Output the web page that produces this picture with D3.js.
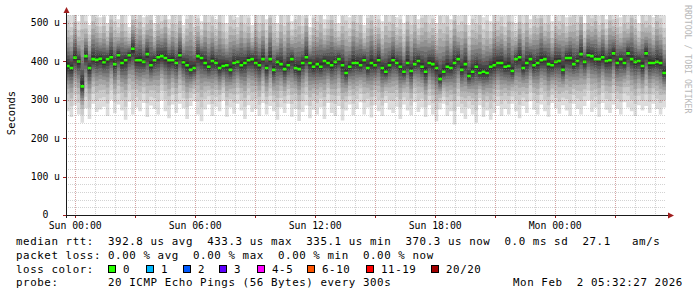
<!DOCTYPE html>
<html><head><meta charset="utf-8">
<script src="https://cdn.jsdelivr.net/npm/d3@7/dist/d3.min.js"></script>
<style>
body{margin:0;background:#fff}
svg{display:block}
text{font-family:"DejaVu Sans Mono",monospace;white-space:pre}
</style>
</head><body>
<svg id="c" width="697" height="297"></svg>
<script>
// ---------------- data ----------------
const medians = [
388,383,410,400,335,414,383,406,404,407,398,406,411,393,416,396,403,416,433,403,403,399,419,390,403,411,
414,409,403,403,396,416,398,390,378,383,414,409,396,386,401,396,383,388,390,378,396,399,390,396,403,406,
396,390,406,383,406,378,399,393,380,390,406,383,380,396,411,396,386,393,386,401,396,390,399,406,390,370,386,396,
396,390,403,383,396,390,403,383,373,390,403,396,386,373,396,375,393,401,386,373,396,393,383,354,373,386,383,
396,406,378,393,362,373,386,370,373,370,386,390,396,396,386,388,375,406,411,383,396,406,390,396,403,406,393,390,399,
401,378,409,409,393,401,419,399,416,414,406,406,411,401,403,421,396,406,396,421,406,399,401,388,421,396,396,399,396,370];
const minPing = [
270,255,285,262,240,278,250,290,268,275, 282,258,300,265,288,272,248,295,262,280,
270,292,255,285,276,262,298,270,252,288, 266,290,278,250,284,296,262,244,275,288,
258,282,270,298,256,280,264,290,272,250, 286,268,276,258,292,262,284,270,248,280,
266,290,256,276,245,268,285,252,274,262, 280,250,292,266,258,284,246,272,288,260,
276,294,262,280,254,286,270,258,292,274, 266,282,250,288,272,260,294,268,280,255,
286,262,244,275,290,258,270,236,282,265, 250,278,262,240,286,255,272,248,266,284,
258,276,262,290,270,252,284,266,296,274, 262,288,270,256,292,278,264,286,272,258,
290,276,262,284,298,268,280,256,292,274, 266,288,276,262,294,280,270,258,286,272,
284,266,290,276,262,280];
const maxPing = [
540,520,560,505,575,530,495,565,545,515, 550,500,570,535,510,560,525,490,555,540,
565,515,545,580,500,550,530,570,510,555, 525,560,495,545,575,520,540,505,565,535,
550,510,575,530,500,560,540,515,570,525, 545,495,565,530,555,510,580,535,500,560,
525,570,505,545,560,520,575,490,550,535, 565,510,540,580,525,500,555,545,515,570,
530,560,495,550,575,520,540,505,565,535, 555,515,545,500,570,530,560,510,550,580,
525,545,500,565,535,555,510,575,520,540, 560,495,550,530,570,515,545,505,565,535,
550,520,575,540,500,560,530,565,510,555, 545,580,525,560,505,550,535,570,515,545,
560,530,575,500,550,540,565,520,555,510, 570,535,545,515,560,525,580,540,500,565,
530,555,515,570,545,520];

const yTicks = [0,100,200,300,400,500];
const yTickLabels = ["0","100","200","300","400","500"];
const xTickLabels = ["Sun 00:00","Sun 06:00","Sun 12:00","Sun 18:00","Mon 00:00"];
const xTickTimes = [Date.UTC(2026,1,1,0),Date.UTC(2026,1,1,6),Date.UTC(2026,1,1,12),Date.UTC(2026,1,1,18),Date.UTC(2026,1,2,0)];
const startTime = Date.UTC(2026,0,31,23,32,27);
const endTime = Date.UTC(2026,1,2,5,32,27);
const lossLabels = ["0","1","2","3","4-5","6-10","11-19","20/20"];
const lossColors = ["#26ff00","#00b8ff","#0059ff","#5e00ff","#ff00ff","#ff5500","#ff0000","#a10000"];
const smokeProfile = [1,0.78,0.62,0.5,0.4,0.32,0.25,0.18,0.12,0.06];
const smokeGray = [221,202,183,164,145,126,107,88,69,50];
const legendLines = [
 "median rtt:  392.8 us avg  433.3 us max  335.1 us min  370.3 us now  0.0 ms sd  27.1   am/s",
 "packet loss: 0.00 % avg  0.00 % max  0.00 % min  0.00 % now",
 "loss color:",
 "probe:       20 ICMP Echo Pings (56 Bytes) every 300s"];
const stampText = "Mon Feb  2 05:32:27 2026";

// ---------------- layout ----------------
const L = 66, T = 15, W = 600, H = 200;
const svg = d3.select("#c");
const x = d3.scaleUtc().domain([startTime, endTime]).range([L, L+W]);
const y = d3.scaleLinear().domain([0, 521]).range([T+H, T]);
const N = medians.length;
const dt = (endTime - startTime) / N;
const idx = d3.range(N+1);
const val = (arr,i)=>arr[Math.min(i,N-1)];

svg.append("defs").append("clipPath").attr("id","pc")
  .append("rect").attr("x",L).attr("y",T).attr("width",W).attr("height",H);

const plot = svg.append("g").attr("clip-path","url(#pc)");
// smoke
smokeProfile.forEach((p,k)=>{
  const area = d3.area().curve(d3.curveStepAfter)
    .x(i=>x(startTime + i*dt))
    .y0(i=>{const m=val(medians,i);return y(m-(m-val(minPing,i))*p);})
    .y1(i=>{const m=val(medians,i);return y(m+(val(maxPing,i)-m)*p);});
  const g = smokeGray[k];
  plot.append("path").datum(idx).attr("d",area).attr("fill",`rgb(${g},${g},${g})`);
});

// grid
const grid = svg.append("g");
d3.utcHour.range(startTime, endTime).forEach(t=>{
  const d = new Date(t);
  const major = d.getUTCHours()%3===0;
  const xx = Math.round(x(t))+0.5;
  if (xx <= L+1) return;
  grid.append("line").attr("x1",xx).attr("x2",xx).attr("y1",T).attr("y2",T+H)
    .attr("stroke", major?"rgba(150,30,30,0.4)":"rgba(140,140,140,0.38)")
    .attr("stroke-dasharray","1,1");
});
d3.range(20,521,20).forEach(v=>{
  const major = v%100===0;
  const yy = Math.round(y(v))+0.5;
  grid.append("line").attr("x1",L).attr("x2",L+W).attr("y1",yy).attr("y2",yy)
    .attr("stroke", major?"rgba(150,30,30,0.4)":"rgba(140,140,140,0.38)")
    .attr("stroke-dasharray","1,1");
});

// median
const medArea = d3.area().curve(d3.curveStepAfter)
  .x(i=>x(startTime + i*dt))
  .y0(i=>y(val(medians,i))+1.3)
  .y1(i=>y(val(medians,i))-1.3);
plot.append("path").datum(idx).attr("d",medArea).attr("fill",lossColors[0]);

// axes
const axisCol = "#1a1a1a", arrowCol = "#a01e1e";
svg.append("line").attr("x1",63).attr("x2",669).attr("y1",y(0)+0.5).attr("y2",y(0)+0.5).attr("stroke",axisCol);
svg.append("line").attr("x1",L+0.5).attr("x2",L+0.5).attr("y1",y(0)+3).attr("y2",12).attr("stroke",axisCol);
svg.append("path").attr("d",`M668,${y(0)-2.5}L674,${y(0)+0.5}L668,${y(0)+3.5}Z`).attr("fill",arrowCol);
svg.append("path").attr("d",`M63.5,13L66.5,7L69.5,13Z`).attr("fill",arrowCol);
// tick marks
d3.utcHour.every(3).range(startTime,endTime).forEach(t=>{
  const xx = Math.round(x(t))+0.5;
  svg.append("line").attr("x1",xx).attr("x2",xx).attr("y1",y(0)+1).attr("y2",y(0)+3).attr("stroke",arrowCol);
});
yTicks.forEach(v=>{
  const yy = Math.round(y(v))+0.5;
  svg.append("line").attr("x1",63).attr("x2",66).attr("y1",yy).attr("y2",yy).attr("stroke",arrowCol);
});

// y labels
yTicks.forEach((v,i)=>{
  const g = svg.append("g").attr("font-size","9.8px");
  g.append("text").attr("x",48.5).attr("y",y(v)).attr("dy","0.35em").attr("text-anchor","end").text(yTickLabels[i]);
  if (v!==0) g.append("text").attr("x",60).attr("y",y(v)).attr("dy","0.35em").attr("text-anchor","end").text("u");
});
// x labels
xTickTimes.forEach((t,i)=>{
  svg.append("text").attr("x",x(t)).attr("y",228.5).attr("text-anchor","middle")
    .attr("font-size","9.8px").text(xTickLabels[i]);
});
// y title
svg.append("text").attr("transform","translate(14.5,113) rotate(-90)").attr("text-anchor","middle")
  .attr("font-size","10.5px").text("Seconds");
// watermark
svg.append("text").attr("transform","translate(684.5,5) rotate(90)").attr("font-size","8.2px")
  .attr("fill","#b8b8b8").text("RRDTOOL / TOBI OETIKER");

// legend
const ls = "0.58px", lf = "10.8px";
const base = [245,258.5,272.5,286];
legendLines.forEach((s,i)=>{
  svg.append("text").attr("x",16).attr("y",base[i]).attr("font-size",lf).attr("letter-spacing",ls).text(s);
});
const sqX = [108,146,183,219,257,307,366,431];
lossLabels.forEach((lab,i)=>{
  svg.append("rect").attr("x",sqX[i]+0.5).attr("y",265.5).attr("width",7).attr("height",7)
    .attr("fill",lossColors[i]).attr("stroke","#000");
  svg.append("text").attr("x",sqX[i]+15).attr("y",base[2]).attr("font-size",lf).attr("letter-spacing",ls).text(lab);
});
svg.append("text").attr("x",513).attr("y",base[3]).attr("font-size",lf).attr("letter-spacing",ls).text(stampText);
</script>
</body></html>
